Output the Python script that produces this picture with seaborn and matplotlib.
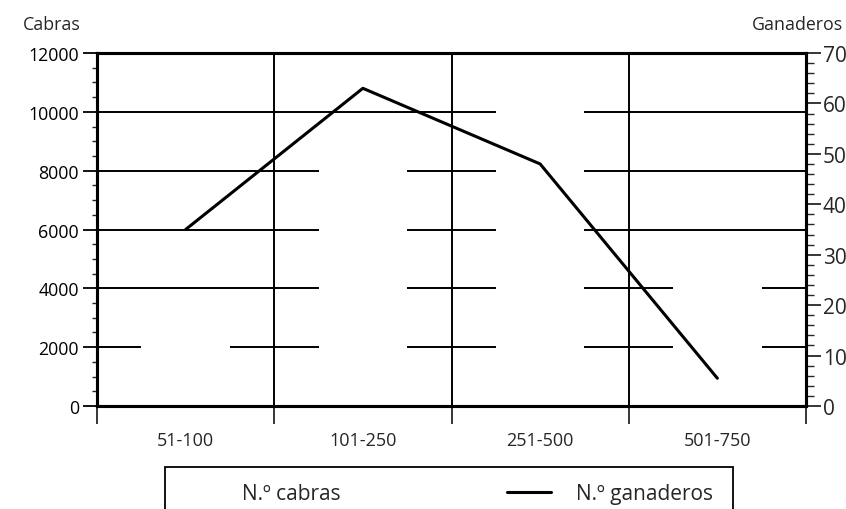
import matplotlib
matplotlib.use("Agg")
import matplotlib.pyplot as plt
import seaborn as sns
import pandas as pd
from matplotlib.patches import Patch, Rectangle
from matplotlib.lines import Line2D
from matplotlib.ticker import MultipleLocator

# datos
categorias = ["51-100", "101-250", "251-500", "501-750"]
cabras = [2500, 8300, 10200, 4400]
ganaderos = [35, 63, 48, 5.5]

df = pd.DataFrame({"cat": categorias, "cabras": cabras, "ganaderos": ganaderos})

sns.set_style("white")
plt.rcParams["font.family"] = ["Open Sans", "DejaVu Sans"]

W, H = 846, 510
fig = plt.figure(figsize=(8.46, 5.10), dpi=100)
ax = fig.add_axes([97 / W, 103 / H, 709 / W, 353 / H])

# barras blancas (tapan la rejilla)
sns.barplot(data=df, x="cat", y="cabras", ax=ax, color="white", width=0.5,
            saturation=1, zorder=2, edgecolor="none")

ax.set_xlim(-0.5, 3.5)
ax.set_ylim(0, 12000)
ax.set_xlabel("")
ax.set_ylabel("")

# eje izquierdo
ax.yaxis.set_major_locator(MultipleLocator(2000))
ax.yaxis.set_minor_locator(MultipleLocator(500))
ax.tick_params(axis="y", which="major", direction="out", length=10, width=1.3,
               labelsize=12.8, pad=3, left=True, colors="black")
ax.tick_params(axis="y", which="minor", direction="out", length=3.6, width=1, left=True)

# eje x: etiquetas en el centro, marcas en los límites
ax.set_xticks(range(len(categorias)))
ax.set_xticklabels(categorias)
ax.set_xticks([-0.5, 0.5, 1.5, 2.5, 3.5], minor=True)
ax.tick_params(axis="x", which="major", length=0, labelsize=13, pad=18)
ax.tick_params(axis="x", which="minor", direction="out", length=13, width=1.3, bottom=True)

ax.grid(axis="y", which="major", color="black", linewidth=1.4, zorder=1)
ax.grid(axis="x", which="minor", color="black", linewidth=1.4, zorder=1)
ax.set_axisbelow(True)

for s in ax.spines.values():
    s.set_color("black")
    s.set_linewidth(2.2)

# eje derecho: ganaderos
ax2 = ax.twinx()
sns.lineplot(x=list(range(len(categorias))), y=ganaderos, ax=ax2, color="black",
             linewidth=2.2, zorder=3)
ax2.set_ylim(0, 70)
ax2.yaxis.set_major_locator(MultipleLocator(10))
ax2.yaxis.set_minor_locator(MultipleLocator(2))
ax2.tick_params(axis="y", which="major", direction="out", length=11, width=1.3,
                labelsize=15, pad=1, right=True)
ax2.tick_params(axis="y", which="minor", direction="out", length=6, width=1, right=True)
for s in ax2.spines.values():
    s.set_color("black")
    s.set_linewidth(2.2)

fig.text(23 / W, 1 - 25 / H, "Cabras", fontsize=12.8, va="center", ha="left")
fig.text(752 / W, 1 - 25 / H, "Ganaderos", fontsize=12.8, va="center", ha="left")

# leyenda (marco dibujado aparte, sale por abajo)
fig.patches.append(Rectangle((165 / W, -0.05), (733 - 165) / W, 0.05 + (H - 468) / H,
                             transform=fig.transFigure, facecolor="none",
                             edgecolor="black", linewidth=1.3))
handles = [Patch(facecolor="white", edgecolor="none"),
           Line2D([0], [0], color="black", linewidth=2.2)]
fig.legend(handles, ["N.º cabras", "N.º ganaderos"], loc="center left",
           bbox_to_anchor=(173 / W, 1 - 495 / H), ncol=2, frameon=False,
           fontsize=15, handlelength=2.1, handletextpad=1.2, columnspacing=8.0,
           borderpad=0, borderaxespad=0)

fig.savefig("out.png", dpi=100)
